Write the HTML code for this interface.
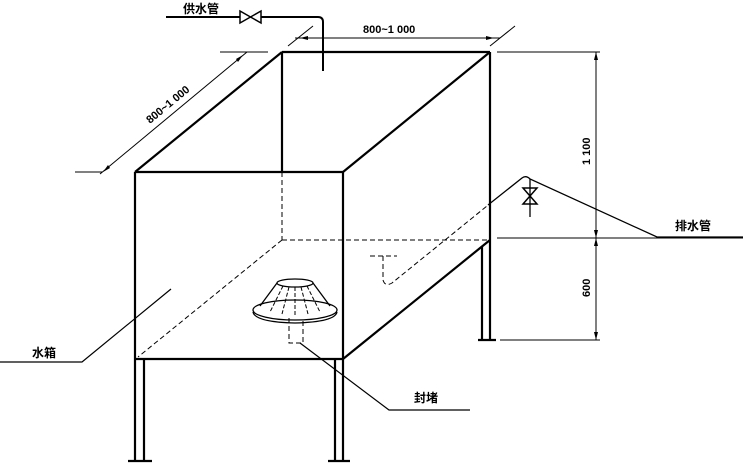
<!DOCTYPE html>
<html><head><meta charset="utf-8"><style>
html,body{margin:0;padding:0;background:#fff;}
svg{display:block;}
text{font-family:"Liberation Sans","Noto Sans CJK SC",sans-serif;font-weight:bold;fill:#000;}
</style></head><body>
<svg width="743" height="463" viewBox="0 0 743 463" xmlns="http://www.w3.org/2000/svg">
<g stroke="#000" fill="none">
<!-- box solid -->
<g stroke-width="2.2">
<line x1="135" y1="172" x2="343" y2="172"/>
<line x1="135" y1="172" x2="282" y2="52"/>
<line x1="282" y1="52" x2="490" y2="52"/>
<line x1="343" y1="172" x2="490" y2="52"/>
<line x1="282" y1="52" x2="282" y2="172"/>
<line x1="490" y1="52" x2="490" y2="340"/>
<line x1="135" y1="172" x2="135" y2="461"/>
<line x1="343" y1="172" x2="343" y2="461"/>
<line x1="135" y1="359" x2="343" y2="359"/>
<line x1="343" y1="359" x2="490" y2="240"/>
<line x1="144" y1="359" x2="144" y2="461"/>
<line x1="335" y1="359" x2="335" y2="461"/>
<line x1="482" y1="246" x2="482" y2="340"/>
<line x1="128" y1="461" x2="152" y2="461"/>
<line x1="328" y1="461" x2="350" y2="461"/>
<line x1="478" y1="340" x2="496" y2="340"/>
</g>
<!-- hidden -->
<g stroke-width="1" stroke-dasharray="5,3">
<line x1="282" y1="172" x2="282" y2="240"/>
<line x1="282" y1="240" x2="490" y2="240"/>
<line x1="282" y1="240" x2="138" y2="357"/>
<path d="M370 256 H397 M383 256 V280 Q385 287 392 283 L487 206"/>
<path d="M289 318 V343 H303 V318"/>
</g>
<!-- supply pipe -->
<g stroke-width="2">
<line x1="166" y1="17" x2="240" y2="17"/>
<path d="M261 17 H318 Q323 17 323 22 V71"/>
<path d="M240 11 L261 23 L261 11 L240 23 Z" stroke-width="1.5"/>
</g>
<!-- drain -->
<g stroke-width="1.3">
<path d="M488 205 L522 178 Q526 175 530 179 L657 237 H743"/>
<line x1="530" y1="179" x2="530" y2="217"/>
<path d="M523 188 L537 204 L523 204 L537 188 Z" stroke-width="1.5"/>
</g>
<!-- fitting -->
<g stroke-width="1.3">
<ellipse cx="295" cy="310" rx="42" ry="10"/>
<path d="M253 312 Q255 322 295 323 Q335 322 337 312"/>
<ellipse cx="295" cy="283" rx="18" ry="4"/>
<path d="M277 283 L260 306 M313 283 L330 306"/>
</g>
<g stroke-width="1" stroke-dasharray="4,2">
<path d="M283 286 L270 312 M289 287 L282 314 M295 287 V316 M301 287 L308 314 M307 286 L320 312"/>
</g>
<!-- leaders -->
<g stroke-width="1.2">
<path d="M0 362 H82 L171 289"/>
<path d="M300 343 L389 410 H470"/>
</g>
<!-- dimensions -->
<g stroke-width="1">
<line x1="220" y1="52" x2="268" y2="52"/>
<line x1="75" y1="172" x2="102" y2="172"/>
<line x1="100" y1="174" x2="247" y2="52"/>
<line x1="295" y1="38" x2="500" y2="38"/>
<line x1="288" y1="46" x2="313" y2="26"/>
<line x1="490" y1="46" x2="515" y2="26"/>
<line x1="497" y1="52" x2="600" y2="52"/>
<line x1="497" y1="238" x2="743" y2="238"/>
<line x1="500" y1="340" x2="600" y2="340"/>
<line x1="596" y1="52" x2="596" y2="340"/>
</g>
<g fill="#000" stroke="none">
<path d="M596 52 l-2 8 h4 z M596 340 l-2 -8 h4 z M596 238 l-2 -8 h4 z M596 238 l-2 8 h4 z"/>
<path d="M300 38 l8 -2 v4 z M494 38 l-8 -2 v4 z"/>
<path d="M103 172 l5 -7 l2 3 z M243 55 l-5 7 l-2 -3 z"/>
</g>
</g>
<text x="183" y="13" font-size="12">供水管</text>
<text x="363" y="33" font-size="11" font-weight="normal">800~1 000</text>
<text x="0" y="0" font-size="11" font-weight="normal" transform="translate(150,124) rotate(-39.5)">800~1 000</text>
<text x="0" y="0" font-size="11" font-weight="normal" transform="translate(590,165) rotate(-90)">1 100</text>
<text x="0" y="0" font-size="11" font-weight="normal" transform="translate(590,297) rotate(-90)">600</text>
<text x="675" y="230" font-size="12">排水管</text>
<text x="32" y="357" font-size="12">水箱</text>
<text x="414" y="402" font-size="12">封堵</text>
</svg>
</body></html>
